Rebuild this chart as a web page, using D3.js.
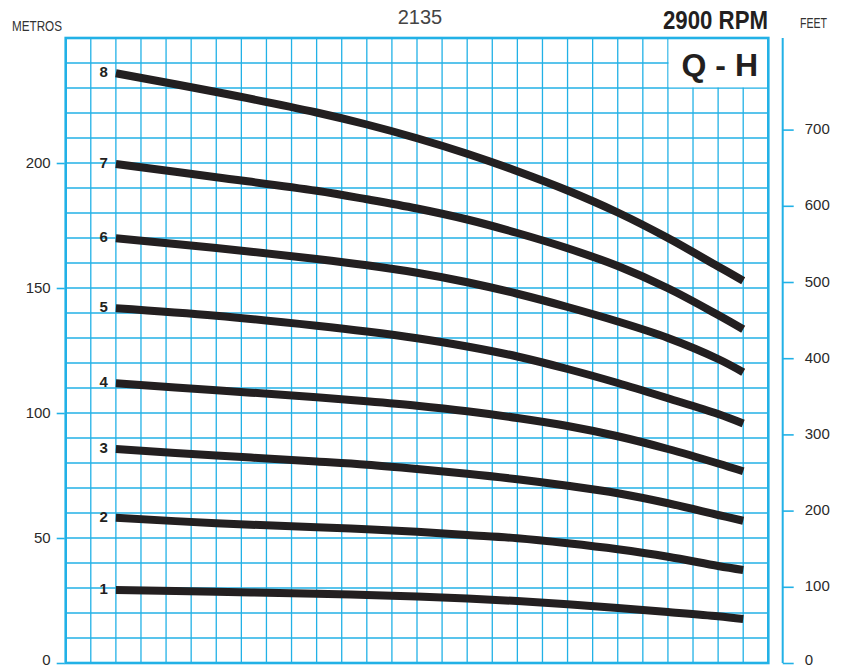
<!DOCTYPE html>
<html>
<head>
<meta charset="utf-8">
<script src="https://cdn.jsdelivr.net/npm/d3@7"></script>
<style>
  html, body { margin: 0; padding: 0; background: #fff; }
  svg { display: block; }
</style>
</head>
<body>
<svg id="chart" width="843" height="669"></svg>
<script>
// ---------- data ----------
const chartTitle = "2135";
const speedLabel = "2900 RPM";
const curveTitle = "Q - H";
const leftUnit = "METROS";
const rightUnit = "FEET";
// flow positions (grid units along the unlabeled Q axis)
const flowPoints = [2, 6, 10, 12, 14, 16, 18, 20, 22, 24, 26, 27];
const stages = ["1", "2", "3", "4", "5", "6", "7", "8"];
const head1 = [29.2, 28.5, 27.7, 27.2, 26.6, 25.8, 24.8, 23.5, 22.0, 20.4, 18.7, 17.6];
const head2 = [58.1, 55.9, 54.3, 53.5, 52.5, 51.2, 49.9, 47.9, 45.5, 42.5, 38.8, 37.2];
const head3 = [85.6, 83.0, 80.6, 79.3, 77.6, 75.7, 73.5, 70.9, 67.9, 63.9, 59.2, 56.9];
const head4 = [111.9, 109.1, 106.3, 104.7, 102.9, 100.7, 98.0, 94.8, 90.7, 85.6, 79.8, 76.7];
const head5 = [141.9, 138.9, 134.9, 132.6, 129.9, 126.6, 122.6, 117.6, 112.0, 105.9, 99.6, 95.8];
const head6 = [169.9, 166.0, 161.6, 159.1, 156.1, 152.3, 147.7, 142.4, 136.6, 130.0, 121.6, 116.3];
const head7 = [199.6, 194.3, 188.9, 185.5, 181.8, 177.4, 172.0, 165.9, 158.8, 149.9, 139.2, 133.5];
const head8 = [235.9, 228.4, 220.2, 215.4, 209.9, 203.7, 196.7, 189.0, 180.2, 170.0, 158.6, 152.9];
const heads = [head1, head2, head3, head4, head5, head6, head7, head8];
const metreTicks = [0, 50, 100, 150, 200];
const feetTicks = [0, 100, 200, 300, 400, 500, 600, 700];

// ---------- layout ----------
const plotL = 65.7, plotR = 768.3, plotT = 38, plotB = 663;
const blue = "#22b1e6";
const ink = "#231f20";
const svg = d3.select("#chart");

const x = d3.scaleLinear().domain([0, 28]).range([plotL, plotR]);
const y = d3.scaleLinear().domain([0, 250]).range([plotB, plotT]);
const yFeet = d3.scaleLinear().domain([0, 250 / 0.3048]).range([plotB, plotT]);

// grid
const grid = svg.append("g").attr("stroke", blue).attr("stroke-width", 1.3).attr("fill", "none");
grid.selectAll("line.v").data(d3.range(1, 28)).join("line").attr("class", "v")
  .attr("x1", d => x(d)).attr("x2", d => x(d)).attr("y1", plotT).attr("y2", plotB);
grid.selectAll("line.h").data(d3.range(10, 250, 10)).join("line").attr("class", "h")
  .attr("x1", plotL).attr("x2", plotR).attr("y1", d => y(d)).attr("y2", d => y(d));

// white box for Q - H
svg.append("rect")
  .attr("x", x(24) + 0.7).attr("y", plotT)
  .attr("width", plotR - x(24) - 0.7).attr("height", y(230) - plotT - 0.7)
  .attr("fill", "#fff");

// frame
svg.append("rect")
  .attr("x", plotL).attr("y", plotT).attr("width", plotR - plotL).attr("height", plotB - plotT)
  .attr("fill", "none").attr("stroke", blue).attr("stroke-width", 2.6);

// left axis
const gl = svg.append("g").attr("transform", `translate(${plotL - 1},0)`)
  .call(d3.axisLeft(y).tickValues(metreTicks).tickSize(8).tickPadding(6).tickFormat(d3.format("d")));
gl.select(".domain").remove();
gl.selectAll(".tick line").attr("stroke", blue).attr("stroke-width", 1.6);
gl.selectAll(".tick text").attr("fill", "#2a2a2a").attr("dy", d => d === 0 ? "0.12em" : "0.27em")
  .style("font-family", "'Liberation Sans', Arial, sans-serif").style("font-size", "15px");

// right axis (feet)
const axisX = 782.7;
const gr = svg.append("g").attr("transform", `translate(${axisX},0)`)
  .call(d3.axisRight(yFeet).tickValues(feetTicks).tickSize(11).tickPadding(11).tickFormat(d3.format("d")));
gr.select(".domain").attr("stroke", blue).attr("stroke-width", 2).attr("d", `M0,${plotT}V${plotB}`);
gr.selectAll(".tick line").attr("stroke", blue).attr("stroke-width", 1.6);
gr.selectAll(".tick text").attr("fill", "#2a2a2a").attr("dy", d => d === 0 ? "0.12em" : "0.27em")
  .style("font-family", "'Liberation Sans', Arial, sans-serif").style("font-size", "15px");

// curves
const line = d3.line().x(d => x(d[0])).y(d => y(d[1])).curve(d3.curveCatmullRom.alpha(0.5));
const curves = svg.append("g");
stages.forEach((s, k) => {
  const pts = flowPoints.map((f, i) => [f, heads[k][i]]);
  curves.append("path").attr("d", line(pts))
    .attr("fill", "none").attr("stroke", ink).attr("stroke-width", 8).attr("stroke-linecap", "butt");
  curves.append("text")
    .attr("x", x(flowPoints[0]) - 8).attr("y", y(heads[k][0]) + 4)
    .attr("text-anchor", "end")
    .style("font-family", "'Liberation Sans', Arial, sans-serif")
    .style("font-weight", "bold").style("font-size", "15px").attr("fill", ink)
    .text(s);
});

// texts
const narrow = "'Liberation Sans Narrow', 'Liberation Sans', Arial, sans-serif";
svg.append("text").attr("x", 12).attr("y", 31).attr("fill", "#333")
  .attr("textLength", 50).attr("lengthAdjust", "spacingAndGlyphs")
  .style("font-family", narrow).style("font-size", "14.5px").text(leftUnit);
svg.append("text").attr("x", 800).attr("y", 28).attr("fill", "#333")
  .attr("textLength", 27).attr("lengthAdjust", "spacingAndGlyphs")
  .style("font-family", narrow).style("font-size", "14.5px").text(rightUnit);
svg.append("text").attr("x", 420).attr("y", 24).attr("text-anchor", "middle").attr("fill", "#444")
  .style("font-family", narrow).style("font-size", "20px").text(chartTitle);
svg.append("text").attr("x", 663).attr("y", 29).attr("fill", ink)
  .attr("textLength", 105).attr("lengthAdjust", "spacingAndGlyphs")
  .style("font-family", narrow).style("font-weight", "bold").style("font-size", "26px").text(speedLabel);
svg.append("text").attr("x", 758).attr("y", 76).attr("text-anchor", "end").attr("fill", ink)
  .style("font-family", "'Liberation Sans', Arial, sans-serif").style("font-weight", "bold").style("font-size", "32px").text(curveTitle);
</script>
</body>
</html>
